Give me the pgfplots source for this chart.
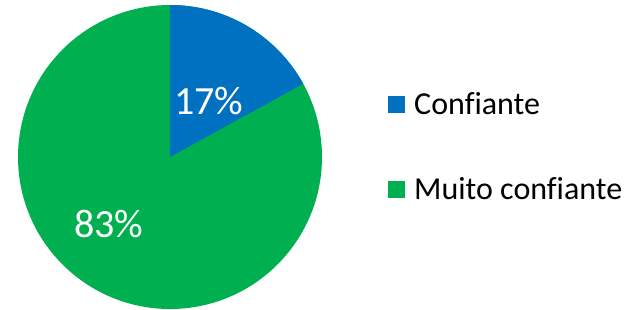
\documentclass[border=0pt]{standalone}
\usepackage{pgfplots}
\usepackage{pgfplotstable}
\pgfplotsset{compat=1.18}
\usepackage{fontspec}
\setmainfont[Ligatures=NoCommon]{Carlito}
\definecolor{cblue}{HTML}{0070C0}
\definecolor{cgreen}{HTML}{00B050}
\pgfplotstableread{
label value
Confiante 17
Muito-confiante 83
}\piedata
\begin{document}
\begin{tikzpicture}
\pgfplotstablegetelem{0}{value}\of\piedata
\pgfmathsetmacro\va{\pgfplotsretval}
\pgfplotstablegetelem{1}{value}\of\piedata
\pgfmathsetmacro\vb{\pgfplotsretval}
\pgfmathsetmacro\angA{90-3.6*\va}
\pgfmathsetmacro\angB{\angA-3.6*\vb}
\begin{axis}[
  width=629pt, height=309pt, scale only axis,
  xmin=0, xmax=629, ymin=0, ymax=309,
  hide axis, clip=false,
]
\path (axis cs:0,0) rectangle (axis cs:629,309);
\fill[cgreen] (axis cs:170,152) -- (axis cs:170,304) arc[start angle=90, end angle=\angB, radius=152pt] -- cycle;
\fill[cblue] (axis cs:170,152) -- (axis cs:170,304) arc[start angle=90, end angle=\angA, radius=152pt] -- cycle;
\node[white, font=\fontsize{40}{48}\selectfont] at (axis cs:209,208) {17\%};
\node[white, font=\fontsize{40}{48}\selectfont] at (axis cs:109,85) {83\%};
\fill[cblue] (axis cs:388,196) rectangle (axis cs:405,213);
\fill[cgreen] (axis cs:388,111) rectangle (axis cs:405,128);
\node[anchor=base west, inner sep=0pt, font=\fontsize{32}{38}\selectfont] at (axis cs:414,195) {Confiante};
\node[anchor=base west, inner sep=0pt, font=\fontsize{32}{38}\selectfont] at (axis cs:414,110) {Muito confiante};
\end{axis}
\end{tikzpicture}
\end{document}
